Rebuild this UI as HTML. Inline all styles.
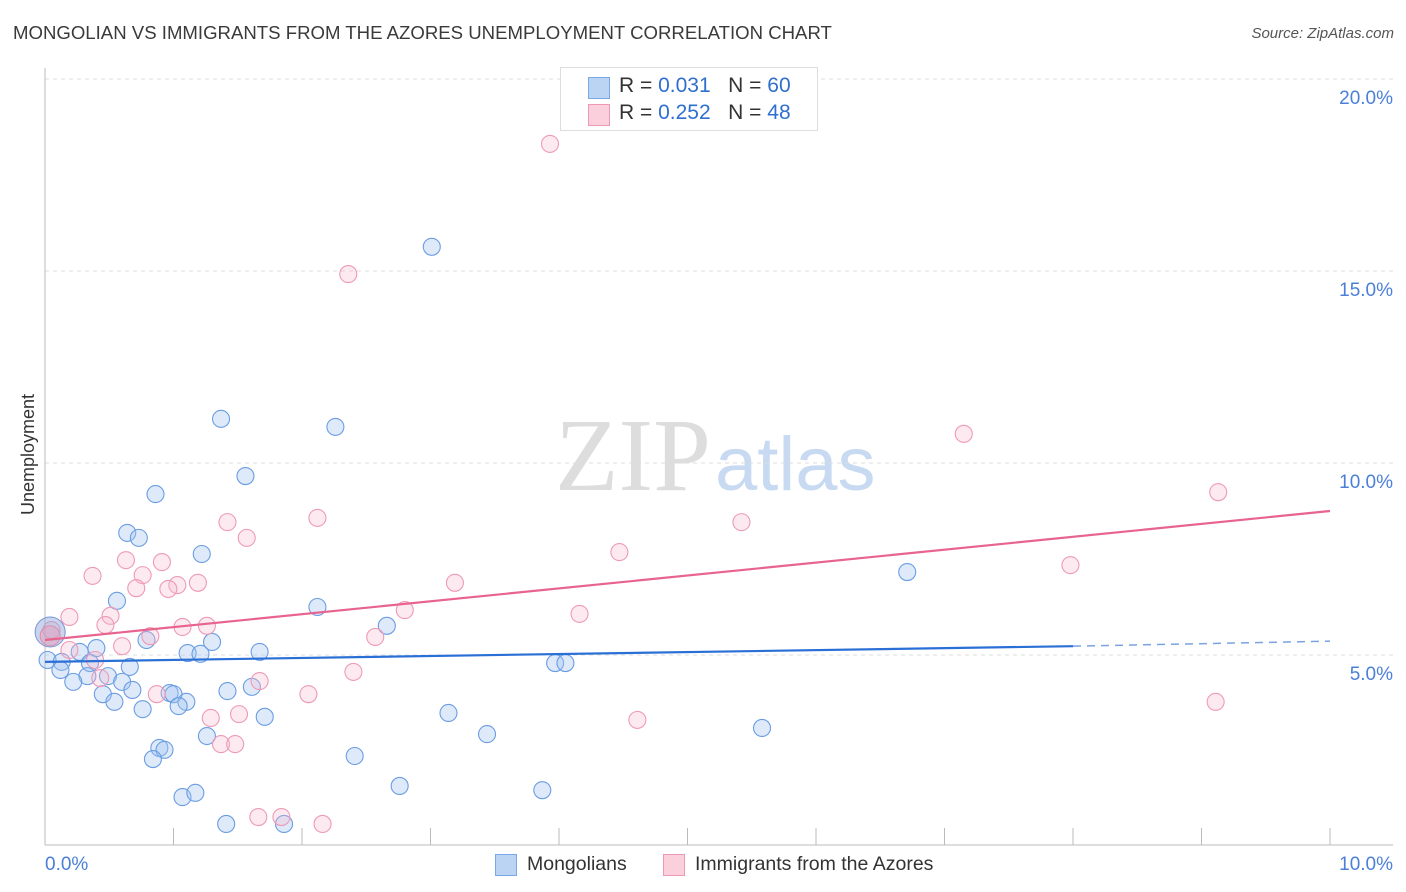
<!DOCTYPE html>
<html><head><meta charset="utf-8"><style>
body{margin:0;background:#fff;font-family:"Liberation Sans",sans-serif;}
#wrap{position:relative;width:1406px;height:892px;overflow:hidden;}
.t{position:absolute;white-space:nowrap;}
</style></head><body>
<div id="wrap">
<div class="t" style="left:13px;top:22px;font-size:18.6px;color:#3a3a3a;">MONGOLIAN VS IMMIGRANTS FROM THE AZORES UNEMPLOYMENT CORRELATION CHART</div>
<div class="t" style="right:12px;top:25px;font-size:15px;color:#555;font-style:italic;">Source: ZipAtlas.com</div>
<div class="t" style="left:-32px;top:444px;font-size:18px;color:#333;transform:rotate(-90deg);">Unemployment</div>
<svg id="plot" width="1406" height="892" style="position:absolute;left:0;top:0">
<text x="555" y="490" font-family="Liberation Serif" font-size="104" fill="#ddd">ZIP<tspan font-family="Liberation Sans" fill="#c8daf2" font-size="76" dx="4">atlas</tspan></text>
</svg>
<div style="position:absolute;left:560px;top:67px;width:256px;height:62px;border:1px solid #ddd;background:#fff;font-size:21px;">
<div style="position:absolute;left:27px;top:9px;width:20px;height:20px;background:#bcd4f4;border:1px solid #7aa7e6;"></div>
<div class="t" style="left:58px;top:6px;color:#333;">R = <span style="color:#2f6fd0">0.031</span>&nbsp;&nbsp; N = <span style="color:#2f6fd0">60</span></div>
<div style="position:absolute;left:27px;top:36px;width:20px;height:20px;background:#fbcfdc;border:1px solid #ee99b4;"></div>
<div class="t" style="left:58px;top:33px;color:#333;">R = <span style="color:#2f6fd0">0.252</span>&nbsp;&nbsp; N = <span style="color:#2f6fd0">48</span></div>
</div>
<div style="position:absolute;left:495px;top:852px;font-size:19.5px;color:#333;">
<div style="position:absolute;left:0;top:2px;width:20px;height:20px;background:#bcd4f4;border:1px solid #7aa7e6;"></div>
<div class="t" style="left:32px;top:1px;">Mongolians</div>
<div style="position:absolute;left:168px;top:2px;width:20px;height:20px;background:#fbcfdc;border:1px solid #ee99b4;"></div>
<div class="t" style="left:200px;top:1px;">Immigrants from the Azores</div>
</div>
</div>
<script>
const yTicks=[5,10,15,20];
const yTickLabels=["5.0%","10.0%","15.0%","20.0%"];
const xTickLabels=["0.0%","10.0%"];
const blueX=[3.01,1.37,2.26,1.56,0.86,0.64,0.73,1.22,6.71,0.56,2.12,2.66,1.30,0.79,1.11,1.21,1.67,0.40,0.27,3.97,4.05,0.02,0.13,0.35,0.66,0.12,0.33,0.22,0.49,0.60,0.45,0.68,0.54,0.97,1.00,1.42,1.61,1.10,1.04,0.76,1.71,3.14,1.26,3.44,5.58,0.89,0.93,0.84,2.41,2.76,3.87,1.07,1.17,1.41,1.86];
const blueY=[15.63,11.15,10.94,9.66,9.19,8.18,8.05,7.63,7.16,6.41,6.25,5.76,5.34,5.39,5.05,5.03,5.08,5.18,5.08,4.79,4.79,4.87,4.82,4.79,4.69,4.61,4.45,4.30,4.45,4.30,3.98,4.09,3.78,4.01,3.98,4.06,4.17,3.78,3.67,3.59,3.39,3.49,2.89,2.94,3.10,2.58,2.53,2.29,2.37,1.59,1.48,1.30,1.41,0.60,0.60];
const pinkX=[3.93,2.36,7.15,9.13,5.42,2.12,1.42,1.57,4.47,0.63,0.91,7.98,0.37,0.76,1.19,1.03,0.96,3.19,0.71,2.80,4.16,0.19,0.51,0.47,1.07,1.26,0.82,2.57,0.60,0.05,0.19,0.39,2.40,1.67,0.87,2.05,0.43,9.11,1.29,1.51,4.61,1.37,1.48,1.66,1.84,2.16];
const pinkY=[18.31,14.92,10.76,9.24,8.46,8.57,8.46,8.05,7.68,7.47,7.42,7.34,7.06,7.08,6.88,6.82,6.72,6.88,6.74,6.17,6.07,5.99,6.02,5.78,5.73,5.76,5.49,5.47,5.23,5.65,5.13,4.87,4.56,4.32,3.98,3.98,4.40,3.78,3.36,3.46,3.31,2.68,2.68,0.78,0.78,0.60];
const blueTrend=[4.82,5.23,5.36]; // at x=0, 8, 10
const pinkTrend=[5.39,8.75]; // at x=0,10
const bigBlue=[0.04,5.60], bigPink=[0.04,5.50];
const X=v=>45+v*128.5, Y=v=>847-v*38.4;
const svg=document.getElementById('plot'), NS='http://www.w3.org/2000/svg';
function mk(tag,at){const e=document.createElementNS(NS,tag);for(const k in at)e.setAttribute(k,at[k]);svg.appendChild(e);return e;}
yTicks.forEach((t,i)=>{
 const g=mk('line',{x1:45,x2:1393,y1:Y(t),y2:Y(t),stroke:'#ddd','stroke-dasharray':'4,4'});
 
 
 const l=mk('text',{x:1393,y:Y(t)+25,'text-anchor':'end','font-size':19,fill:'#4a80d8','font-family':'Liberation Sans'});l.textContent=yTickLabels[i];
 
 
});
const ax=mk('line',{x1:45,x2:45,y1:68,y2:845,stroke:'#bbb'});


const bx=mk('line',{x1:45,x2:1393,y1:845,y2:845,stroke:'#bbb'});


for(let i=0;i<=10;i++){const t=mk('line',{x1:X(i),x2:X(i),y1:828,y2:845,stroke:'#bbb'});
 
 }
[[0,'start'],[10,'end']].forEach(([v,a],i)=>{const l=mk('text',{x:i?1393:45,y:870,'text-anchor':a,'font-size':19,fill:'#4a80d8','font-family':'Liberation Sans'});l.textContent=xTickLabels[i];
 
 });
function pts(xs,ys,fill,stroke,name){xs.forEach((x,i)=>{const c=mk('circle',{cx:X(x),cy:Y(ys[i]),r:8.5,fill:fill,stroke:stroke,'stroke-width':1.1});
 
 });}
pts(blueX,blueY,'rgba(160,195,240,0.35)','#6b9de2','point-mongolians');
pts(pinkX,pinkY,'rgba(250,185,205,0.3)','#ee9ab6','point-azores');
const b1=mk('circle',{cx:X(bigBlue[0]),cy:Y(bigBlue[1]),r:15,fill:'rgba(150,170,220,0.5)',stroke:'#7a95d6'});


const b2=mk('circle',{cx:X(bigPink[0]),cy:Y(bigPink[1]),r:10,fill:'rgba(230,160,190,0.5)',stroke:'#d890b0'});


const pl=mk('line',{x1:X(0),y1:Y(pinkTrend[0]),x2:X(10),y2:Y(pinkTrend[1]),stroke:'#e8638d','stroke-width':2.2});


const bl=mk('line',{x1:X(0),y1:Y(blueTrend[0]),x2:X(8),y2:Y(blueTrend[1]),stroke:'#2a6fd6','stroke-width':2.2});


const bd=mk('line',{x1:X(8),y1:Y(blueTrend[1]),x2:X(10),y2:Y(blueTrend[2]),stroke:'#7aa3e0','stroke-width':1.5,'stroke-dasharray':'8,6'});


</script>
</body></html>
